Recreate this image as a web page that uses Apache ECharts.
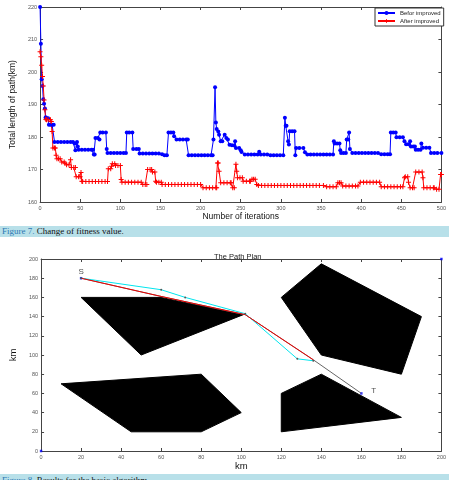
<!DOCTYPE html>
<html lang="en">
<head>
<meta charset="UTF-8">
<title>Fitness value and path plan</title>
<script src="https://cdn.jsdelivr.net/npm/echarts@6.0.0/dist/echarts.min.js"></script>
<style>
    html, body { margin: 0; padding: 0; background: #fff; overflow: hidden; width: 449px; height: 480px; }
    #main { position: absolute; left: 0; top: 0; width: 449px; height: 480px; }
    .cap { position: absolute; left: 0; width: 449px; background: #b8e0e9; font-family: "Liberation Serif", serif;
           font-size: 9px; color: #111; white-space: nowrap; overflow: hidden; padding-left: 2px; box-sizing: border-box; z-index: 2; }
    .cap span { color: #2b78b3; }
</style>
</head>
<body>
<div id="main"></div>
<div class="cap" style="top:226px;height:11px;line-height:11px;"><span>Figure 7.</span> Change of fitness value.</div>
<div class="cap" style="top:474px;height:12px;line-height:13px;"><span>Figure 8.</span> Results for the basic algorithm.</div>

<script type="text/javascript">
    // Figure 7: [iteration, total length]
    var beforeImproved = [
        [0,220],[1,208.7],[2,197.8],[3,195.7],[4,191.6],[5,190.2],[6,188.8],[7,186.1],[8,185.8],[10,185.8],
        [11,183.8],[13,183.8],[15,183.8],[17,183.8],[18,178.5],[22,178.5],[26,178.5],[30,178.5],[34,178.5],
        [38,178.5],[41,178.5],[43,178],[44,175.9],[46,178.5],[47,177.1],[48,176.1],[52,176.1],[56,176.1],
        [60,176.1],[64,176.1],[66,176.1],[67,174.6],[68,174.6],[69,179.7],[72,179.7],[74,179.2],[75,181.4],
        [78,181.4],[82,181.4],[83,176.3],[84,175.1],[88,175.1],[92,175.1],[96,175.1],[100,175.1],[104,175.1],
        [107,175.1],[108,181.4],[111,181.4],[115,181.4],[116,176.3],[120,176.3],[123,176.3],[124,174.9],
        [128,174.9],[132,174.9],[136,174.9],[140,174.9],[144,174.9],[148,174.9],[152,174.7],[155,174.4],
        [158,174.4],[160,181.4],[163,181.4],[166,181.4],[167,180.2],[170,179.2],[174,179.2],[178,179.2],
        [182,179.2],[184,179.2],[185,174.4],[189,174.4],[193,174.4],[197,174.4],[201,174.4],[205,174.4],
        [209,174.4],[213,174.4],[215,174.4],[216,179.2],[218,195.3],[219,184.5],[220,182.5],[222,181.7],
        [223,180.7],[225,178.7],[227,178.7],[230,180.7],[232,179.7],[234,179.2],[236,177.6],[239,177.5],
        [242,177.4],[243,178.7],[244,176.6],[248,176.6],[250,175.9],[251,175.4],[255,174.6],[259,174.6],
        [263,174.6],[267,174.6],[271,174.6],[273,175.5],[275,174.6],[279,174.6],[283,174.6],[287,174.4],
        [291,174.4],[295,174.4],[299,174.4],[303,174.4],[305,185.9],[306,183.5],[307,183.5],[309,178.7],
        [310,177.7],[311,181.8],[314,181.8],[317,181.8],[318,174.4],[319,176.6],[323,176.6],[328,176.6],
        [330,175.3],[333,174.6],[337,174.6],[341,174.6],[345,174.6],[349,174.6],[353,174.6],[357,174.6],
        [361,174.6],[365,174.6],[366,178.7],[367,178],[370,178],[373,178],[374,175.9],[375,175.1],[378,175.1],
        [381,175.1],[382,179.2],[384,179.2],[385,181.4],[386,176.3],[389,175.1],[393,175.1],[397,175.1],
        [401,175.1],[405,175.1],[409,175.1],[413,175.1],[417,175.1],[421,175.1],[425,174.7],[429,174.7],
        [433,174.7],[436,174.7],[437,181.4],[440,181.4],[443,181.4],[444,179.9],[448,179.9],[452,179.9],
        [454,178.7],[456,177.8],[459,177.8],[461,178.7],[462,177.1],[465,177.1],[467,177.1],[468,176.1],
        [471,176.1],[474,176.1],[475,178],[477,176.7],[481,176.7],[485,176.7],[487,175.1],[491,175.1],
        [495,175.1],[500,175.1]
    ];
    var afterImproved = [
        [0,206.2],[1,204.7],[2,202.1],[3,198.6],[4,195.7],[5,191.4],[6,188.4],[7,185.5],[8,185.3],[10,185.3],
        [13,185.3],[14,184.8],[15,181.7],[16,176.6],[18,176.6],[19,176.6],[20,174.4],[21,173.3],[23,173.3],
        [25,173.3],[27,172.3],[30,172.3],[31,171.9],[33,171.5],[36,171.5],[38,173],[39,170.6],[42,170.6],
        [44,170.6],[45,167.8],[48,167.8],[50,167.8],[51,169.1],[52,166.4],[53,166.3],[57,166.3],[61,166.3],
        [65,166.3],[69,166.3],[73,166.3],[77,166.3],[81,166.3],[84,166.3],[85,170.2],[88,170.2],[89,171],
        [90,171.8],[93,171.8],[94,171.2],[97,171.2],[100,171.2],[101,166.9],[102,166.1],[106,166.1],
        [110,166.1],[114,166.1],[118,166.1],[122,166.1],[126,166.1],[128,165.4],[131,165.4],[133,165.4],
        [134,170],[137,170],[139,170],[140,169.2],[143,169.2],[144,166.4],[145,166.1],[148,166.1],[151,166.1],
        [152,165.4],[156,165.4],[160,165.4],[164,165.4],[168,165.4],[172,165.4],[176,165.4],[180,165.4],
        [184,165.4],[188,165.4],[192,165.4],[196,165.4],[200,165.4],[203,164.4],[207,164.4],[211,164.4],
        [215,164.4],[219,164.4],[220,164.4],[221,172],[222,172],[223,169.5],[225,165.9],[229,165.9],
        [233,165.9],[237,165.9],[238,165.9],[240,164.4],[242,164.4],[244,171.6],[245,169.5],[246,167.5],
        [249,167.5],[252,167.5],[253,166.4],[257,166.4],[261,166.4],[262,166.4],[264,167],[266,167],[268,167],
        [270,165.4],[272,165.1],[276,165.1],[280,165.1],[284,165.1],[288,165.1],[292,165.1],[296,165.1],
        [300,165.1],[304,165.1],[308,165.1],[312,165.1],[316,165.1],[320,165.1],[324,165.1],[328,165.1],
        [332,165.1],[336,165.1],[340,165.1],[344,165.1],[348,165.1],[353,165.1],[357,164.7],[361,164.7],
        [365,164.7],[369,164.7],[371,165.9],[373,165.9],[375,165.9],[377,164.9],[381,164.9],[385,164.9],
        [389,164.9],[393,164.9],[396,164.9],[399,166.1],[403,166.1],[407,166.1],[411,166.1],[415,166.1],
        [419,166.1],[423,166.1],[425,164.7],[429,164.7],[433,164.7],[437,164.7],[441,164.7],[445,164.7],
        [449,164.7],[452,164.7],[454,167.5],[455,167.8],[458,167.8],[459,166.1],[461,164.4],[464,164.4],
        [466,164.4],[468,169.2],[472,169.2],[476,169.2],[477,167.5],[478,164.4],[482,164.4],[486,164.4],
        [490,164.4],[491,164.4],[494,163.9],[497,163.9],[499,168.5],[500,168.5]
    ];

    // Figure 8: obstacles (polygon vertices, km) and paths
    var obstacles = [
        [[20,160],[60,160],[101,142],[50,100]],
        [[10,70],[80,80],[100,40],[80,20],[45,20]],
        [[140,195],[120,160],[140,100],[180,80],[190,140]],
        [[120,60],[140,80],[180,35],[120,20]]
    ];
    var grayPath = [[20,180],[60,161],[102,142],[136,95],[160,60]];
    var redPath = [[20,180],[60,161],[102,142],[136,95]];
    var cyanPath = [[20,180],[60,168],[72,160],[102,143],[128,96],[136,94]];
    var bluePoints = [[0,0],[200,200],[20,180],[160,60]];
    var endLabels = [[20,180,'S'],[160,60,'T']];

    var tickFont = {fontSize: 5.5, color: '#555', fontFamily: 'Liberation Sans'};
    var lineCol = '#444';

    function axis(grid, pos, min, max, interval, extra) {
        var a = {
            gridIndex: grid, type: 'value', position: pos, min: min, max: max, interval: interval,
            axisLine: {show: true, onZero: false, lineStyle: {color: lineCol, width: 1}},
            axisTick: {show: true, inside: true, length: 3, lineStyle: {color: lineCol}},
            axisLabel: {show: pos == 'bottom' || pos == 'left', margin: 3, fontSize: tickFont.fontSize,
                        color: tickFont.color, fontFamily: tickFont.fontFamily},
            splitLine: {show: false}
        };
        for (var k in extra) a[k] = extra[k];
        return a;
    }
    var nameStyle = {fontSize: 8.5, color: '#111', fontFamily: 'Liberation Sans'};
    var kmStyle = {fontSize: 9.5, color: '#111', fontFamily: 'Liberation Sans'};

    var myChart = echarts.init(document.getElementById('main'));
    var option = {
        animation: false,
        title: {
            text: 'The Path Plan', left: 209, top: 248,
            textStyle: {fontSize: 7.5, fontWeight: 'normal', color: '#222', fontFamily: 'Liberation Sans'}
        },
        legend: {
            data: ['Befor improved', 'After improved'],
            orient: 'vertical', left: 375, top: 8, padding: [2, 3, 2, 2], itemGap: 2,
            itemWidth: 17, itemHeight: 5, borderColor: '#333', borderWidth: 1, backgroundColor: '#fff',
            textStyle: {fontSize: 6, color: '#222', fontFamily: 'Liberation Sans'}
        },
        grid: [
            {left: 24, top: 7, width: 421, height: 195},
            {left: 23, top: 259, width: 422, height: 192}
        ],
        xAxis: [
            axis(0, 'bottom', 0, 500, 50, {name: 'Number of iterations', nameLocation: 'middle', nameGap: 9, nameTextStyle: nameStyle}),
            axis(0, 'top', 0, 500, 50),
            axis(1, 'bottom', 0, 200, 20, {name: 'km', nameLocation: 'middle', nameGap: 9, nameTextStyle: kmStyle}),
            axis(1, 'top', 0, 200, 20)
        ],
        yAxis: [
            axis(0, 'left', 160, 220, 10, {name: 'Total length of path(km)', nameLocation: 'middle', nameGap: 17, nameTextStyle: nameStyle}),
            axis(0, 'right', 160, 220, 10),
            axis(1, 'left', 0, 200, 20, {name: 'km', nameLocation: 'middle', nameGap: 20, nameTextStyle: kmStyle}),
            axis(1, 'right', 0, 200, 20)
        ],
        series: [
            {
                name: 'Befor improved', type: 'line', xAxisIndex: 0, yAxisIndex: 0, data: beforeImproved,
                color: '#0000ff', symbol: 'circle', symbolSize: 4, showSymbol: true,
                lineStyle: {width: 1, color: '#0000ff'}, itemStyle: {color: '#0000ff'}
            },
            {
                name: 'After improved', type: 'line', xAxisIndex: 0, yAxisIndex: 0, data: afterImproved,
                color: '#ff0000', symbol: 'path://M2,0H3V2H5V3H3V5H2V3H0V2H2Z', symbolSize: 5, showSymbol: true,
                lineStyle: {width: 1, color: '#ff0000'}, itemStyle: {color: '#ff0000'}
            },
            {
                type: 'custom', xAxisIndex: 2, yAxisIndex: 2, silent: true,
                data: obstacles.map(function (o, i) { return [i]; }),
                renderItem: function (params, api) {
                    var pts = obstacles[api.value(0)].map(function (p) { return api.coord(p); });
                    return {type: 'polygon', shape: {points: pts}, style: {fill: '#000', stroke: '#000'}};
                }
            },
            {
                type: 'line', xAxisIndex: 2, yAxisIndex: 2, data: grayPath, symbol: 'none',
                lineStyle: {width: 1, color: '#666'}
            },
            {
                type: 'line', xAxisIndex: 2, yAxisIndex: 2, data: cyanPath, symbol: 'circle', symbolSize: 2,
                lineStyle: {width: 1, color: '#00e5ee'}, itemStyle: {color: '#555'}
            },
            {
                type: 'line', xAxisIndex: 2, yAxisIndex: 2, data: redPath, symbol: 'none',
                lineStyle: {width: 1, color: '#ee0000'}
            },
            {
                type: 'scatter', xAxisIndex: 2, yAxisIndex: 2, data: bluePoints, symbol: 'rect', symbolSize: 2.5,
                itemStyle: {color: '#0000ff'}
            },
            {
                type: 'scatter', xAxisIndex: 2, yAxisIndex: 2, symbolSize: 0,
                data: endLabels.map(function (d) {
                    return {
                        value: [d[0], d[1]],
                        label: {show: true, formatter: d[2], position: d[2] == 'S' ? 'top' : 'right',
                                distance: d[2] == 'S' ? 2 : 10, offset: d[2] == 'S' ? [0, 0] : [0, -3],
                                fontSize: 8, color: '#222', fontFamily: 'Liberation Sans'}
                    };
                })
            }
        ]
    };
    myChart.setOption(option);
</script>
</body>
</html>
